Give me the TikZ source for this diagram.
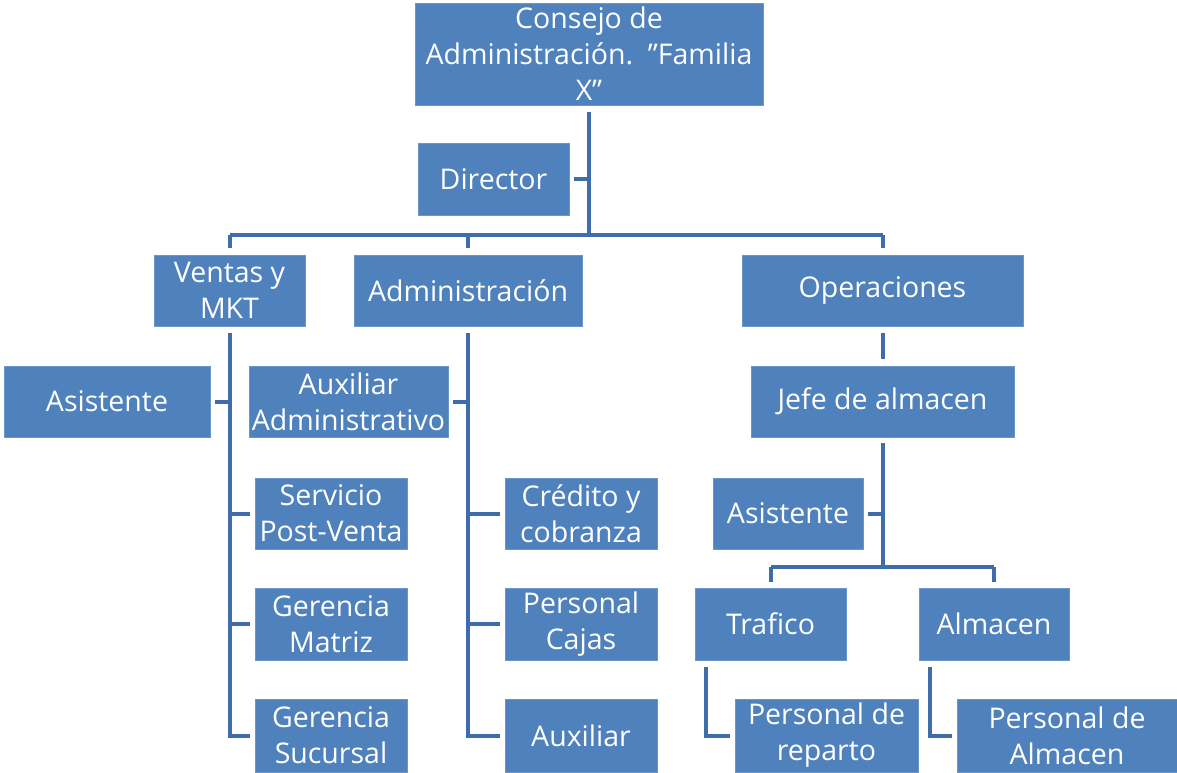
\documentclass[tikz,border=0pt]{standalone}
\usepackage{fontspec}
\setmainfont{Open Sans}
\usetikzlibrary{calc}
\definecolor{boxblue}{HTML}{4F81BD}
\definecolor{boxedge}{HTML}{6A96CC}
\definecolor{linkblue}{HTML}{3F6DA9}
\tikzset{
  unit box/.style={draw=boxedge, line width=0.8pt, fill=boxblue, text=white,
    font=\fontsize{28.5}{36}\selectfont, align=center, inner sep=0pt},
  conn/.style={draw=linkblue, line width=4pt},
}
% box from left, top, right, bottom (y grows downwards)
\newcommand\orgbox[6][]{%
  \node[unit box,#1, minimum width={(#4-#2)*1pt}, minimum height={(#5-#3)*1pt}]
    at ({(#2+#4)/2},{(#3+#5)/2}) #6;}
\newcommand\dq{\symbol{34}}
\begin{document}
\begin{tikzpicture}[x=1pt,y=-1pt]
\useasboundingbox (0,0) rectangle (1177,772);

% boxes
\orgbox{415}{3}{763}{105}{(consejo) {Consejo de\\Administración.~~\dq Familia\\X\dq}}
\orgbox{418}{143}{569}{215}{(director) {Director}}
\orgbox{154}{255}{305}{326}{(ventas) {Ventas y\\MKT}}
\orgbox{354}{255}{582}{326}{(admin) {Administración}}
\orgbox{742}{255}{1023}{326}{(ops) {Operaciones}}
\orgbox{4}{366}{210}{437}{(asisA) {Asistente}}
\orgbox{249}{366}{448}{437}{(auxadm) {Auxiliar\\Administrativo}}
\orgbox{751}{366}{1014}{437}{(jefe) {Jefe de almacen}}
\orgbox{255}{478}{407}{549}{(serv) {Servicio\\Post-Venta}}
\orgbox{505}{478}{657}{549}{(cred) {Crédito y\\cobranza}}
\orgbox{713}{478}{863}{549}{(asisB) {Asistente}}
\orgbox{255}{588}{407}{660}{(gmat) {Gerencia\\Matriz}}
\orgbox{505}{588}{657}{660}{(pcaj) {Personal\\Cajas}}
\orgbox{695}{588}{846}{660}{(traf) {Trafico}}
\orgbox{919}{588}{1069}{660}{(alm) {Almacen}}
\orgbox{255}{699}{407}{772}{(gsuc) {Gerencia\\Sucursal}}
\orgbox{505}{699}{657}{772}{(aux) {Auxiliar}}
\orgbox{735}{699}{918}{772}{(prep) {Personal de\\reparto}}
\orgbox{957}{699}{1177}{772}{(palm) {Personal de\\Almacen}}

% bus levels
\coordinate (busA) at (0,235);
\coordinate (busB) at (0,567);

% top level
\draw[conn, shorten <=7pt] (consejo.south) -- (consejo.south |- busA);
\draw[conn, shorten <=5pt] (director.east) -- (director.east -| consejo.south);
\draw[conn] (ventas.north |- busA) -- (ops.north |- busA);
\foreach \n in {ventas,admin,ops}
  \draw[conn, shorten >=7pt] (\n.north |- busA) -- (\n.north);

% Ventas y MKT
\draw[conn, shorten <=7pt, shorten >=5pt] (ventas.south) -- (ventas.south |- gsuc.west) -- (gsuc.west);
\draw[conn, shorten <=5pt] (asisA.east) -- (asisA.east -| ventas.south);
\foreach \n in {serv,gmat}
  \draw[conn, shorten >=5pt] (ventas.south |- \n.west) -- (\n.west);

% Administracion
\draw[conn, shorten <=7pt, shorten >=5pt] (admin.south) -- (admin.south |- aux.west) -- (aux.west);
\draw[conn, shorten <=5pt] (auxadm.east) -- (auxadm.east -| admin.south);
\foreach \n in {cred,pcaj}
  \draw[conn, shorten >=5pt] (admin.south |- \n.west) -- (\n.west);

% Operaciones
\draw[conn, shorten <=7pt, shorten >=7pt] (ops.south) -- (jefe.north);
\draw[conn, shorten <=6pt] (jefe.south) -- (jefe.south |- busB);
\draw[conn, shorten <=5pt] (asisB.east) -- (asisB.east -| jefe.south);
\draw[conn] (traf.north |- busB) -- (alm.north |- busB);
\foreach \n in {traf,alm}
  \draw[conn, shorten >=6pt] (\n.north |- busB) -- (\n.north);
\draw[conn, shorten <=7pt, shorten >=5pt] ([xshift=11pt]traf.south west) -- ([xshift=11pt]traf.south west |- prep.west) -- (prep.west);
\draw[conn, shorten <=7pt, shorten >=5pt] ([xshift=11pt]alm.south west) -- ([xshift=11pt]alm.south west |- palm.west) -- (palm.west);
\end{tikzpicture}
\end{document}
